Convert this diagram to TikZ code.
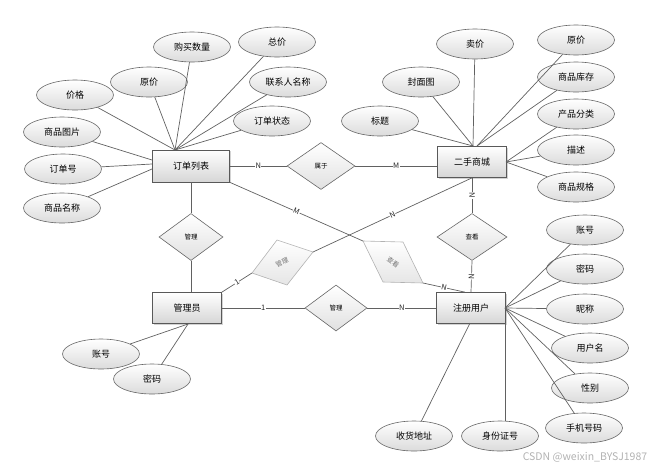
\documentclass[tikz,border=0pt]{standalone}
\usepackage{fontspec}
\setmainfont{Noto Sans CJK SC}
\usetikzlibrary{shapes.geometric,shadows}
\begin{document}
\begin{tikzpicture}[x=1pt,y=-1pt,
 attr/.style={ellipse,draw=black!60,line width=0.6pt,top color=white,bottom color=black!14,minimum width=77pt,minimum height=30pt,inner sep=0pt,font=\fontsize{9}{10}\selectfont},
 ent/.style={rectangle,draw=black!65,line width=0.7pt,top color=white,bottom color=black!16,minimum width=69pt,minimum height=31pt,inner sep=0pt,font=\fontsize{9}{10}\selectfont,drop shadow={shadow xshift=1.2pt,shadow yshift=-1.2pt,opacity=0.35}},
 rel/.style={diamond,draw=black!60,line width=0.6pt,top color=white,bottom color=black!12,minimum width=68pt,minimum height=47pt,inner sep=0pt,font=\fontsize{6.5}{7}\selectfont},
 relg/.style={draw=black!30,line width=0.6pt,top color=white,bottom color=black!10},
 relgt/.style={inner sep=0pt,text=black!55,font=\fontsize{6.5}{7}\selectfont},
 conn/.style={draw=black!62,line width=0.7pt},
 lab/.style={fill=white,inner sep=0.4pt,text=black!85,font=\fontsize{7.5}{8}\selectfont}]
\useasboundingbox (0,0) rectangle (669,472);

% entities
\node[ent,minimum width=77pt,minimum height=32pt] (dd) at (191,166) {订单列表};
\node[ent] (sc) at (472,162) {二手商城};
\node[ent] (gly) at (187,308) {管理员};
\node[ent] (yh) at (471,308) {注册用户};

% relations
\node[rel] (sy) at (321,166) {属于};
\node[rel,minimum width=64pt] (gl1) at (191,237) {管理};
\node[rel,minimum width=62pt,minimum height=46pt] (gl2) at (336,308) {管理};
\node[rel,minimum width=70pt] (ck1) at (472,237) {查看};

% skewed relations
\coordinate (ga) at (252,273);
\coordinate (gb) at (277,240);
\coordinate (gc) at (313,252);
\coordinate (gd) at (287,285);
\path[relg] (ga) -- (gb) -- (gc) -- (gd) -- cycle;
\node[relgt,rotate=25] (glt) at (282,262) {管理};
\coordinate (ca) at (363,241);
\coordinate (cb) at (403,242);
\coordinate (cc) at (423,283);
\coordinate (cd) at (383,282);
\path[relg] (ca) -- (cb) -- (cc) -- (cd) -- cycle;
\node[relgt,rotate=-35] (ckt) at (393,262) {查看};

% relation connectors
\draw[conn] (dd.east) -- node[lab]{N} (sy.west);
\draw[conn] (sy.east) -- node[lab]{M} (sy.east -| sc.west);
\draw[conn] (dd.south) -- (gl1.north);
\draw[conn] (gl1.south) -- (gl1.south |- gly.north);
\draw[conn] (gly.east) -- node[lab]{1} (gl2.west);
\draw[conn] (gl2.east) -- node[lab]{N} (yh.west);
\draw[conn] (sc.south) -- node[lab,sloped]{N} (ck1.north);
\draw[conn] (ck1.south) -- node[lab,sloped]{N} (yh.north);
\draw[conn] (gly.north east) -- node[lab,sloped]{1} (ga);
\draw[conn] (gc) -- node[lab,sloped]{N} (sc.south);
\draw[conn] (dd.south east) -- node[lab,sloped]{M} (ca);
\coordinate (yhn) at ([xshift=-6pt]yh.north);
\draw[conn] (cc) -- node[lab,sloped]{N} (yhn);

% order list attributes
\node[attr] (a1) at (192,47) {购买数量};
\node[attr] (a2) at (277,42) {总价};
\node[attr] (a3) at (149,82) {原价};
\node[attr] (a4) at (75,95) {价格};
\node[attr] (a5) at (288,82) {联系人名称};
\node[attr] (a6) at (272,121) {订单状态};
\node[attr] (a7) at (62,132) {商品图片};
\node[attr] (a8) at (63,169) {订单号};
\node[attr] (a9) at (62,208) {商品名称};
\coordinate (ddt) at (175,150);
\coordinate (ddl1) at (152,160);
\coordinate (ddl2) at (152,164);
\coordinate (ddl3) at (152,169);
\foreach \a in {a1,a2,a3,a4,a5,a6} \draw[conn] (\a) -- (ddt);
\draw[conn] (a7) -- (ddl1);
\draw[conn] (a8) -- (ddl2);
\draw[conn] (a9) -- (ddl3);

% second-hand mall attributes
\node[attr] (b1) at (475,44) {卖价};
\node[attr] (b2) at (576,40) {原价};
\node[attr] (b3) at (421,82) {封面图};
\node[attr] (b4) at (576,77) {商品库存};
\node[attr] (b5) at (380,121) {标题};
\node[attr] (b6) at (576,114) {产品分类};
\node[attr] (b7) at (576,150) {描述};
\node[attr] (b8) at (576,187) {商品规格};
\coordinate (sct1) at (473,146);
\coordinate (sct2) at (477,146);
\coordinate (scr) at (506,162);
\foreach \b in {b1,b3,b5} \draw[conn] (\b) -- (sct1);
\foreach \b in {b2,b4} \draw[conn] (\b) -- (sct2);
\foreach \b in {b6,b7,b8} \draw[conn] (\b) -- (scr);

% user attributes
\node[attr] (c1) at (585,230) {账号};
\node[attr] (c2) at (585,269) {密码};
\node[attr] (c3) at (585,309) {昵称};
\node[attr] (c4) at (590,348) {用户名};
\node[attr] (c5) at (590,388) {性别};
\node[attr] (c6) at (584,428) {手机号码};
\node[attr] (c7) at (414,436) {收货地址};
\node[attr] (c8) at (500,436) {身份证号};
\coordinate (yhr) at (505,308);
\coordinate (yhb1) at (470,323);
\coordinate (yhb2) at (505,323);
\coordinate (c8t) at (505,421.2);
\foreach \c in {c1,c2,c3,c4,c5,c6} \draw[conn] (\c) -- (yhr);
\draw[conn] (c7) -- (yhb1);
\draw[conn] (c8t) -- (yhb2);

% admin attributes
\node[attr] (d2) at (152,379) {密码};
\node[attr] (d1) at (101,354) {账号};
\coordinate (glyb) at (188,324);
\draw[conn] (d1) -- (glyb);
\draw[conn] (d2) -- (glyb);

% watermark
\node[text=black!30,inner sep=0pt,font=\fontsize{10.5}{11}\selectfont] (wm) at (585,457) {CSDN @weixin\_BYSJ1987};
\end{tikzpicture}
\end{document}
